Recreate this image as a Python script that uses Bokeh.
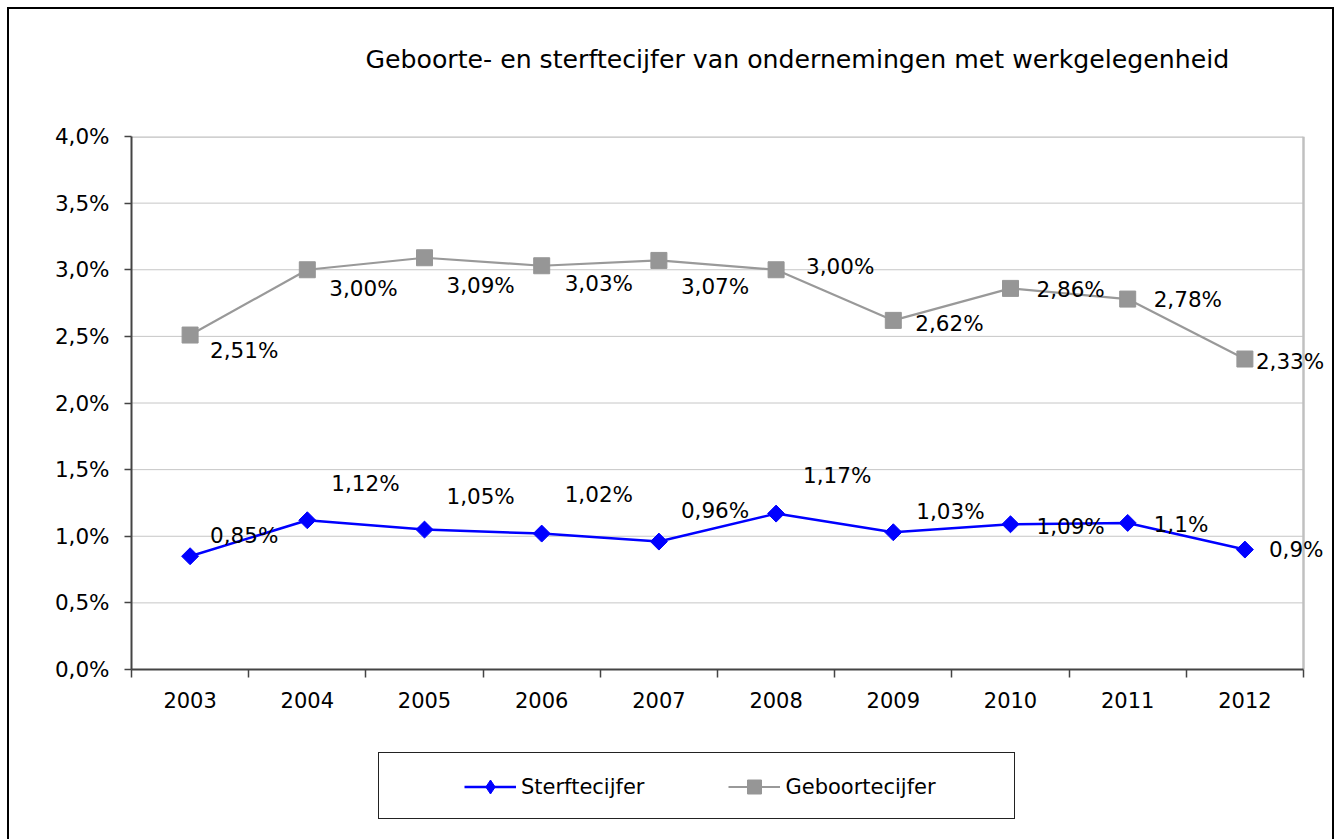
from bokeh.plotting import figure
from bokeh.layouts import column
from bokeh.models import (Range1d, FixedTicker, ColumnDataSource, LabelSet, Label,
                          Legend, LegendItem, InlineStyleSheet)
from bokeh.embed import file_html
from bokeh.resources import INLINE
from bokeh.core.properties import value
import math

# ---- data ----
years = ["2003", "2004", "2005", "2006", "2007", "2008", "2009", "2010", "2011", "2012"]
sterftecijfer = [0.85, 1.12, 1.05, 1.02, 0.96, 1.17, 1.03, 1.09, 1.10, 0.90]
geboortecijfer = [2.51, 3.00, 3.09, 3.03, 3.07, 3.00, 2.62, 2.86, 2.78, 2.33]
sterfte_labels = ["0,85%", "1,12%", "1,05%", "1,02%", "0,96%", "1,17%", "1,03%", "1,09%", "1,1%", "0,9%"]
geboorte_labels = ["2,51%", "3,00%", "3,09%", "3,03%", "3,07%", "3,00%", "2,62%", "2,86%", "2,78%", "2,33%"]
y_ticks = [0.0, 0.5, 1.0, 1.5, 2.0, 2.5, 3.0, 3.5, 4.0]
y_tick_labels = ["0,0%", "0,5%", "1,0%", "1,5%", "2,0%", "2,5%", "3,0%", "3,5%", "4,0%"]
title_text = "Geboorte- en sterftecijfer van ondernemingen met werkgelegenheid"
series_names = ["Sterftecijfer", "Geboortecijfer"]

# label placement (pixels, styling only)
sterfte_dx = [20, 24, 22, 23, 22, 27, 23, 26, 26, 24]
sterfte_dy = [21, 37, 33, 39, 31, 38, 21, -2, -2, 0]
geboorte_dx = [20, 22, 22, 23, 22, 30, 22, 26, 26, 11]
geboorte_dy = [-15, -19, -28, -18, -26, 3, -3, -1, 0, -2]

FONT = "DejaVu Sans"
BLUE, GRAY_M, GRAY_L = "#0000ff", "#969696", "#999999"
n = len(years)
xs = [i + 0.5 for i in range(n)]

W, H = 1336, 839
HT = 100                      # title strip height
HL = 109                      # legend strip height
HM = H - HT - HL              # main chart height
LEFT, RIGHT_AREA, TOP, BOTTOM = 131, 1303, 136, 669
x_end = n * (W - LEFT) / (RIGHT_AREA - LEFT)   # frame reaches the right edge so labels are not cut

outer_css = InlineStyleSheet(css="""
:host { position: relative; }
:host::after { content: ""; position: absolute; left: 7px; top: 7px; width: 1327px; height: 832px;
  border-left: 2px solid #000; border-top: 2px solid #000; border-right: 2px solid #000;
  box-sizing: border-box; pointer-events: none; z-index: 10; }
""")
legend_css = InlineStyleSheet(css="""
:host { position: relative; }
:host::before { content: ""; position: absolute; left: 378px; top: 22px; width: 637px; height: 67px;
  border: 1.5px solid #222; box-sizing: border-box; pointer-events: none; z-index: 10; }
""")


def strip(height, css=None):
    f = figure(width=W, height=height, output_backend="svg", toolbar_location=None,
               x_range=Range1d(-3, -2), y_range=Range1d(-3, -2),
               min_border_left=0, min_border_right=0, min_border_top=0, min_border_bottom=0,
               stylesheets=[css] if css else [])
    f.axis.visible = False
    f.grid.visible = False
    f.outline_line_color = None
    f.background_fill_color = "white"
    f.border_fill_color = "white"
    return f


# ---- title strip ----
t = strip(HT)
t.add_layout(Label(x=365 - LEFT, y=HT - 59, x_units="screen", y_units="screen", text=title_text,
                   text_font=FONT, text_font_size="25.2px", text_color="black",
                   text_align="left", text_baseline="middle"))

# ---- main chart ----
p = figure(width=W, height=HM, output_backend="svg", toolbar_location=None,
           x_range=Range1d(0, x_end), y_range=Range1d(0, 4),
           min_border_left=LEFT, min_border_right=0, min_border_top=TOP - HT,
           min_border_bottom=HT + HM - BOTTOM)
p.background_fill_color = "white"
p.border_fill_color = "white"
p.outline_line_color = None

# grid lines drawn only across the plot area (0..n)
p.xgrid.grid_line_color = None
p.ygrid.grid_line_color = None
p.segment(x0=[0] * (len(y_ticks) - 2), x1=[n] * (len(y_ticks) - 2), y0=y_ticks[1:-1], y1=y_ticks[1:-1],
          line_color="#c6c6c6", line_width=1)
# plot area border (top and right)
p.segment(x0=[0, n], x1=[n, n], y0=[y_ticks[-1], y_ticks[0]], y1=[y_ticks[-1], y_ticks[-1]],
          line_color="#c0c0c0", line_width=2.5)

# y axis
ya = p.yaxis[0]
ya.ticker = FixedTicker(ticks=y_ticks)
ya.major_label_overrides = {tk: l for tk, l in zip(y_ticks, y_tick_labels)}
ya.axis_line_color = "#444444"
ya.axis_line_width = 2
ya.major_tick_line_color = "#444444"
ya.major_tick_line_width = 1.5
ya.major_tick_out = 7
ya.major_tick_in = 0
ya.minor_tick_line_color = None
ya.major_label_text_font = FONT
ya.major_label_text_font_size = "21.5px"
ya.major_label_text_color = "black"
ya.major_label_standoff = 15

# x axis
xa = p.xaxis[0]
xa.bounds = (0, n)
xa.ticker = FixedTicker(ticks=xs, minor_ticks=list(range(n + 1)))
xa.major_label_overrides = {x: y for x, y in zip(xs, years)}
xa.axis_line_color = "#444444"
xa.axis_line_width = 2
xa.major_tick_line_color = None
xa.minor_tick_line_color = "#444444"
xa.minor_tick_line_width = 1.5
xa.minor_tick_out = 8
xa.minor_tick_in = 0
xa.major_label_text_font = FONT
xa.major_label_text_font_size = "21px"
xa.major_label_text_color = "black"
xa.major_label_standoff = 14

src = ColumnDataSource(dict(x=xs, s=sterftecijfer, g=geboortecijfer,
                            sl=sterfte_labels, gl=geboorte_labels,
                            sdx=sterfte_dx, sdy=sterfte_dy, gdx=geboorte_dx, gdy=geboorte_dy))

p.line("x", "g", source=src, line_color=GRAY_L, line_width=2.2)
p.scatter("x", "g", source=src, marker="square", size=16, fill_color=GRAY_M, line_color=GRAY_M)
p.line("x", "s", source=src, line_color=BLUE, line_width=2.5)
p.scatter("x", "s", source=src, marker="square", angle=math.pi / 4, size=12,
          fill_color=BLUE, line_color=BLUE)

p.add_layout(LabelSet(x="x", y="g", text="gl", source=src, x_offset="gdx", y_offset="gdy",
                      text_font=value(FONT), text_font_size="21.5px", text_color="black",
                      text_align="left", text_baseline="middle"))
p.add_layout(LabelSet(x="x", y="s", text="sl", source=src, x_offset="sdx", y_offset="sdy",
                      text_font=value(FONT), text_font_size="21.5px", text_color="black",
                      text_align="left", text_baseline="middle"))

# ---- legend strip (series drawn out of view; only their legend samples show) ----
q = strip(HL, legend_css)
r_sl = q.line("x", "s", source=src, line_color=BLUE, line_width=2.5)
r_sm = q.scatter("x", "s", source=src, marker="diamond", size=17, fill_color=BLUE, line_color=BLUE)
r_gl = q.line("x", "g", source=src, line_color=GRAY_L, line_width=2.2)
r_gm = q.scatter("x", "g", source=src, marker="square", size=14, fill_color=GRAY_M, line_color=GRAY_M)
legend = Legend(items=[LegendItem(label=series_names[0], renderers=[r_sl, r_sm]),
                       LegendItem(label=series_names[1], renderers=[r_gl, r_gm])],
                location=(333, 35), orientation="horizontal",
                border_line_color=None, background_fill_alpha=0,
                padding=0, margin=0, spacing=84, glyph_width=52, glyph_height=35,
                label_height=35, label_standoff=5,
                label_text_font=FONT, label_text_font_size="21px", label_text_color="black")
q.add_layout(legend, "center")

layout = column(t, p, q, spacing=0, stylesheets=[outer_css])
open("out.html", "w").write(file_html(layout, INLINE))
